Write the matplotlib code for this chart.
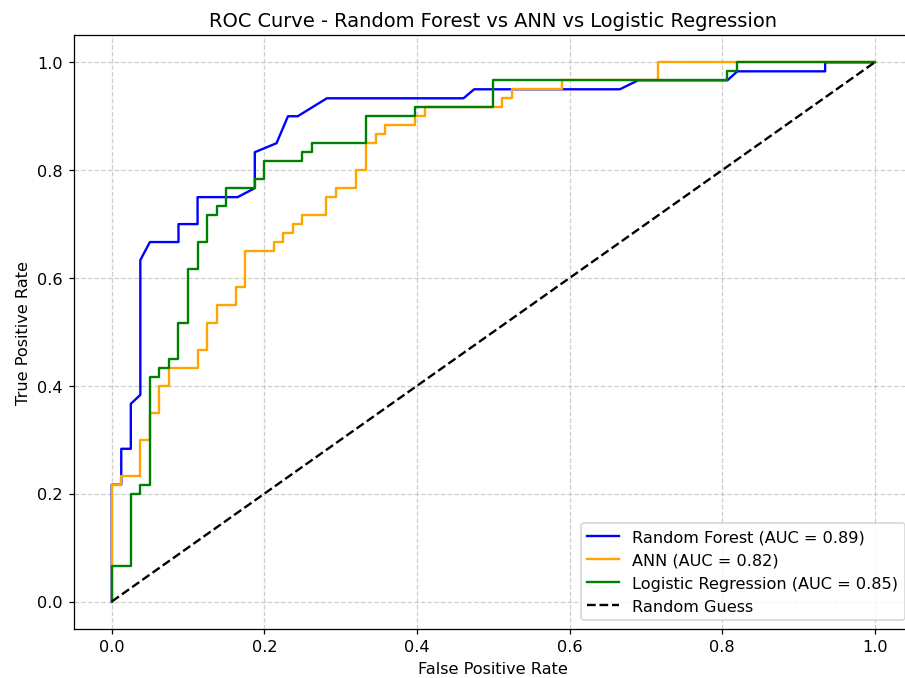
import matplotlib
matplotlib.use('Agg')
import matplotlib.pyplot as plt

# ROC points (fpr, tpr)
fpr_rf = [0, 0, 0.0125, 0.0125, 0.025, 0.025, 0.0375, 0.0375, 0.05, 0.0875, 0.0875,
          0.1125, 0.1125, 0.165, 0.1875, 0.1875, 0.216, 0.231, 0.2437, 0.282, 0.461,
          0.475, 0.666, 0.69, 0.807, 0.82, 0.935, 0.935, 1.0]
tpr_rf = [0, 0.2167, 0.2167, 0.2833, 0.2833, 0.3667, 0.3833, 0.6333, 0.6667, 0.6667, 0.7,
          0.7, 0.75, 0.75, 0.7667, 0.8333, 0.85, 0.9, 0.9, 0.9333, 0.9333,
          0.95, 0.95, 0.9667, 0.9667, 0.9833, 0.9833, 1.0, 1.0]

fpr_ann = [0, 0, 0.0125, 0.0125, 0.0375, 0.0375, 0.05, 0.05, 0.0625, 0.0625, 0.075, 0.075,
           0.1125, 0.1125, 0.125, 0.125, 0.1375, 0.1375, 0.1625, 0.1625, 0.175, 0.175,
           0.2125, 0.2125, 0.225, 0.225, 0.2375, 0.2375, 0.25, 0.25, 0.2813, 0.2813,
           0.2938, 0.2938, 0.32, 0.32, 0.3333, 0.3333, 0.346, 0.346, 0.358, 0.358,
           0.3975, 0.3975, 0.41, 0.41, 0.511, 0.511, 0.524, 0.524, 0.59, 0.59,
           0.716, 0.716, 1.0]
tpr_ann = [0, 0.2167, 0.2167, 0.2333, 0.2333, 0.3, 0.3, 0.35, 0.35, 0.4, 0.4, 0.4333,
           0.4333, 0.4667, 0.4667, 0.5167, 0.5167, 0.55, 0.55, 0.5833, 0.5833, 0.65,
           0.65, 0.6667, 0.6667, 0.6833, 0.6833, 0.7, 0.7, 0.7167, 0.7167, 0.75,
           0.75, 0.7667, 0.7667, 0.8, 0.8, 0.85, 0.85, 0.8667, 0.8667, 0.8833,
           0.8833, 0.9, 0.9, 0.9167, 0.9167, 0.9333, 0.9333, 0.95, 0.95, 0.9667,
           0.9667, 1.0, 1.0]

fpr_lr = [0, 0, 0.025, 0.025, 0.0375, 0.0375, 0.05, 0.05, 0.0625, 0.0625, 0.075, 0.075,
          0.0875, 0.0875, 0.1, 0.1, 0.1125, 0.1125, 0.125, 0.125, 0.1375, 0.1375,
          0.15, 0.15, 0.1875, 0.1875, 0.2, 0.2, 0.25, 0.25, 0.2625, 0.2625,
          0.3333, 0.3333, 0.3975, 0.3975, 0.5, 0.5, 0.807, 0.807, 0.82, 0.82, 1.0]
tpr_lr = [0, 0.0667, 0.0667, 0.2, 0.2, 0.2167, 0.2167, 0.4167, 0.4167, 0.4333, 0.4333, 0.45,
          0.45, 0.5167, 0.5167, 0.6167, 0.6167, 0.6667, 0.6667, 0.7167, 0.7167, 0.7333,
          0.7333, 0.7667, 0.7667, 0.7833, 0.7833, 0.8167, 0.8167, 0.8333, 0.8333, 0.85,
          0.85, 0.9, 0.9, 0.9167, 0.9167, 0.9667, 0.9667, 0.9833, 0.9833, 1.0, 1.0]

auc_rf, auc_ann, auc_lr = 0.89, 0.82, 0.85

plt.rcParams['font.size'] = 10.3


def main():
    fig = plt.figure(figsize=(8, 6), dpi=113.125)
    ax = fig.add_axes([0.0813, 0.0729, 0.9274, 0.8739])

    ax.plot(fpr_rf, tpr_rf, color='blue', label=f'Random Forest (AUC = {auc_rf:.2f})')
    ax.plot(fpr_ann, tpr_ann, color='orange', label=f'ANN (AUC = {auc_ann:.2f})')
    ax.plot(fpr_lr, tpr_lr, color='green', label=f'Logistic Regression (AUC = {auc_lr:.2f})')
    ax.plot([0, 1], [0, 1], 'k--', label='Random Guess')

    ax.set_xlabel('False Positive Rate')
    ax.set_ylabel('True Positive Rate')
    ax.set_title('ROC Curve - Random Forest vs ANN vs Logistic Regression', fontsize=12.35)
    ax.legend(loc='lower right')
    ax.grid(True, linestyle='--', alpha=0.6)

    fig.savefig('out.png', dpi=113.125)


if __name__ == '__main__':
    main()
